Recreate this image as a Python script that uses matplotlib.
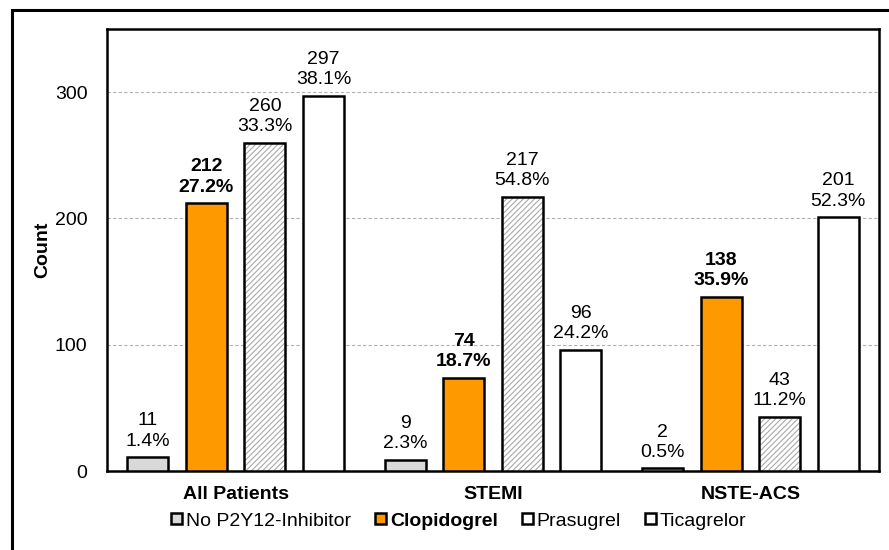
import matplotlib
matplotlib.use('Agg')
import matplotlib.pyplot as plt
import numpy as np
from matplotlib.patches import Rectangle, Patch

plt.rcParams['font.family'] = ['Liberation Sans', 'DejaVu Sans']
plt.rcParams['hatch.linewidth'] = 0.8

groups = ['All Patients', 'STEMI', 'NSTE-ACS']
drugs = ['No P2Y12-Inhibitor', 'Clopidogrel', 'Prasugrel', 'Ticagrelor']
counts = {
    'No P2Y12-Inhibitor': [11, 9, 2],
    'Clopidogrel': [212, 74, 138],
    'Prasugrel': [260, 217, 43],
    'Ticagrelor': [297, 96, 201],
}
percents = {
    'No P2Y12-Inhibitor': ['1.4%', '2.3%', '0.5%'],
    'Clopidogrel': ['27.2%', '18.7%', '35.9%'],
    'Prasugrel': ['33.3%', '54.8%', '11.2%'],
    'Ticagrelor': ['38.1%', '24.2%', '52.3%'],
}

faces = {'No P2Y12-Inhibitor': '#d9d9d9', 'Clopidogrel': '#ff9900',
         'Prasugrel': 'white', 'Ticagrelor': 'white'}

fig = plt.figure(figsize=(8.89, 5.5), dpi=100)
W, H = 889, 550
ax = fig.add_axes([107 / W, 1 - 471 / H, (879 - 107) / W, (471 - 29) / H])

# outer frame, runs off the right and bottom edge
fig.patches.append(Rectangle((12 / W, -0.05), 1.0, 1 - 10 / H + 0.05,
                             transform=fig.transFigure, fill=False,
                             edgecolor='black', linewidth=2.2, zorder=0))

x = np.arange(len(groups))
step = 0.2275
width = 0.159
for i, d in enumerate(drugs):
    xs = x + (i - 1.5) * step
    if d == 'Prasugrel':
        # grey hatch first, black outline on top
        ax.bar(xs, counts[d], width, color='white', edgecolor='#a8a8a8',
               linewidth=0, hatch='//////', zorder=3)
        ax.bar(xs, counts[d], width, fill=False, edgecolor='black',
               linewidth=1.8, zorder=3)
    else:
        ax.bar(xs, counts[d], width, color=faces[d], edgecolor='black',
               linewidth=1.8, zorder=3)
    bold = 'bold' if d == 'Clopidogrel' else 'normal'
    for xi, c, p in zip(xs, counts[d], percents[d]):
        ax.text(xi, c + 6, '%d\n%s' % (c, p), ha='center', va='bottom',
                fontsize=14, fontweight=bold, linespacing=1.25, zorder=4)

ax.set_xlim(-0.5, 2.5)
ax.set_ylim(0, 350)
ax.set_yticks([0, 100, 200, 300])
ax.set_xticks(x)
ax.set_xticklabels(groups, fontweight='bold', fontsize=14)
ax.tick_params(axis='both', length=0, labelsize=14)
ax.tick_params(axis='y', pad=14)
ax.tick_params(axis='x', pad=11)
ax.set_ylabel('Count', fontweight='bold', fontsize=14, labelpad=3)
for y in [100, 200, 300]:
    ax.axhline(y, color='#b0b0b0', linestyle=(0, (3, 2)), linewidth=0.8, zorder=1)
for s in ax.spines.values():
    s.set_linewidth(1.8)

handles = [Patch(facecolor=faces[d], edgecolor='black', linewidth=1.8) for d in drugs]
leg = fig.legend(handles, drugs, loc='center', bbox_to_anchor=(459 / W, 1 - 521 / H),
                 ncol=4, frameon=False, fontsize=14, handlelength=0.55,
                 handleheight=0.55, handletextpad=0.2, columnspacing=1.25)
leg.get_texts()[1].set_fontweight('bold')

fig.savefig('out.png', dpi=100)
